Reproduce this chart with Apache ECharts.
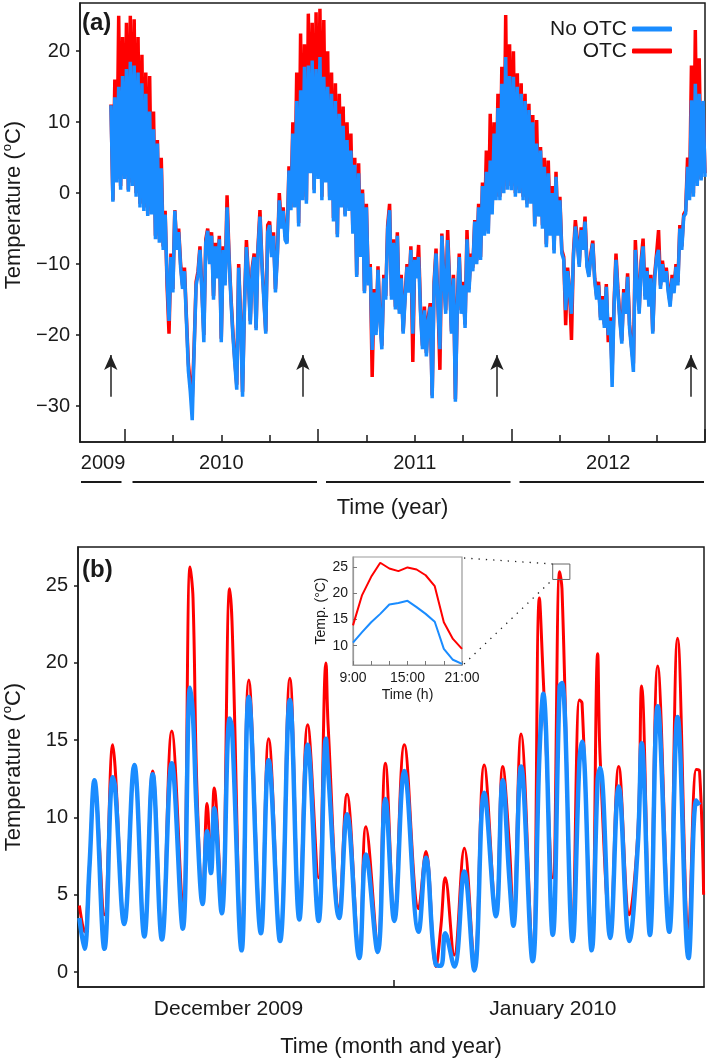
<!DOCTYPE html>
<html><head><meta charset="utf-8">
<script src="https://cdn.jsdelivr.net/npm/echarts@6/dist/echarts.min.js"></script>
<style>html,body{margin:0;padding:0;background:#fff}#c{width:709px;height:1060px}</style>
</head><body><div id="c"></div>
<script>
// ---------- Panel (a): samples every ~3.65 days, decimal years ----------
const aStartYear = 2009.93;
const aStepYear = 0.01;
const aNoOTC = [
12.4,-1.2,13.5,1.5,15,0.5,16.5,2,17.5,0.2,
18.5,1,18,-0.5,17,-2,15.5,-2.5,14,-3.2,
11.5,-3,9,-6.5,7,-7,3.5,-8,-3,-12,
-18,-9,-14,-2.5,-8,-5.5,-10.5,-13.5,-11,-18,
-25,-28,-32,-22,-13,-11.5,-8,-14,-21,-7,
-5.3,-10,-6,-15,-7.5,-12,-6.5,-21,-8,-13,
-2,-9,-15,-20,-24,-27.7,-10.5,-18,-28.7,-16,
-7.6,-12,-18.5,-11,-9,-19.3,-8,-3.3,-10,-15,
-19.8,-5.5,-4.5,-9,-6,-14,-9,-1,-5,-2.5,
-6.6,-7.1,3.2,-2.4,8.4,-2,13,-4.7,14.5,-1,
17.8,-1.5,18,2.8,18.7,0,17.5,2,19.2,-1,
16.4,1.5,15,-1,14,-4,13,-6.2,11.2,-2,
9.5,-3.3,7.5,-2.5,6,-5.7,4,-11.8,2.8,-9,
0,-14.1,-2,-13,-10.4,-22.1,-14,-20,-10.8,-18,
-22,-12,-15,-5,-2.4,-15,-7,-16.4,-6,-17,
-12,-19.8,-15,-10.4,-14,-8,-19.8,-9.4,-12,-9,
-17,-22,-16.5,-23,-18,-16,-28.9,-13,-8.5,-16,
-22,-6,-12,-17,-6.6,-13,-19.8,-12,-29.4,-16,
-9,-17,-13,-19,-6.5,-14,-9,-11,-4,-10,
-2,-9.4,1,-6,3,-5.7,4.6,-3,8.4,-1,
12,-1,15.4,0,19.2,0.5,16.5,0.4,16.4,-0.5,
15,0,14,-1,13,-2,11.7,-1.5,10,-4.7,
7,-3.3,6,-5,3.7,-7.6,2.8,-6,0,-8.5,
2.3,-6,-1,-8.5,-9.4,-16.5,-11,-14,-17,-9,
-4.7,-7,-10.4,-5.2,-8,-4,-10.4,-11.8,-9,-7.1,
-12.3,-15,-13,-17.9,-15,-19,-13.2,-20,-18,-27.3,
-16,-9.4,-14,-18,-21.2,-14,-17,-11.8,-19,-22,
-25.2,-8,-13,-17,-10,-7.5,-15,-11,-16,-12,
-19.8,-12,-9,-8,-13.5,-10,-12.5,-11,-14,-16,
-12,-14.1,-10.4,-13,-5,-8,-3.3,-2.9,3.7,-1,
13.1,-0.5,15.4,1,14,1.8,13,2.3
];
const aOTC = [
12.5,-1,16,2,25,1,22,2.5,24,0.5,
25,1.5,24.5,0,22,-1.5,19.5,-2,17,-3,
16.5,-2.5,11.5,-6,7.5,-6.5,5,-7.5,-2.5,-13,
-19.8,-8.5,-13.5,-2.4,-7.5,-5,-10,-13,-10.5,-17.5,
-24,-27,-29,-21.5,-12.5,-11,-7.5,-13.5,-20,-6.5,
-5,-9.5,-5.5,-14.5,-7,-11.5,-6,-20.5,-7.5,-12.5,
-0.3,-8.5,-14.5,-19.5,-23.5,-27,-10,-17.5,-28,-15.5,
-6.6,-11.5,-18,-10.5,-8.5,-19,-7.5,-2.4,-9.5,-14.5,
-19.5,-4.5,-4,-8.5,-5.5,-13.5,-8.5,0,-4.5,-2,
-6,-6.8,3.8,-2,10,-1.5,17,-4.2,22.5,-0.5,
21,-1,25.3,3,24,0.5,25.5,2.5,26,-0.5,
24.4,2,20,-0.5,17,-3.5,15.5,-5.8,14,-1.5,
12.2,-3,10,-2,8.4,-5.3,5,-11.5,4.2,-8.5,
0.5,-13.8,-1.5,-12.5,-10,-25.9,-13.5,-19.5,-10.3,-17.5,
-21.5,-11.5,-14.5,-4.5,-1.5,-14.5,-6.5,-16,-5.5,-16.5,
-11.5,-19.5,-14.5,-10,-13.5,-7.5,-23.8,-9,-11.5,-7.3,
-16.5,-21.5,-16,-22.5,-17.5,-15.5,-28.5,-12.5,-7.8,-15.5,
-24.9,-5.7,-11.5,-16.5,-5.2,-12.5,-19.5,-11.5,-29,-15.5,
-8.5,-16.5,-12.5,-18.5,-5.2,-13.5,-8.5,-10.5,-3.8,-9.5,
-1.5,-9,1.5,-5.5,6,-5.3,11.2,-2.5,10,-0.5,
14,-0.5,17.8,0.5,25.1,1,21,1,20,0,
16.9,0.5,15.5,-0.5,14,-1.5,12.6,-1,11,-4.3,
10.3,-3,6.5,-4.5,5,-7.2,4.6,-5.5,1,-8,
3,-5.5,-0.5,-8,-9,-18.6,-10.5,-13.5,-20.7,-8.5,
-3.8,-6.5,-10,-4.8,-7.5,-3.3,-10,-11.5,-8.5,-6.7,
-12,-14.5,-12.5,-17.5,-14.5,-18.5,-12.8,-21,-17.5,-25,
-15.5,-8.5,-13.5,-17.5,-20.8,-13.5,-16.5,-11.3,-18.5,-21.5,
-24,-6.6,-12.5,-16.5,-9.5,-6.4,-14.5,-10.5,-15.5,-11.5,
-19.5,-11.5,-8.5,-5.2,-13,-9.5,-12,-10.5,-13.5,-15.5,
-11.5,-13.5,-10,-12.5,-4.5,-7.5,-3,-2.5,5,-0.5,
18,0,23,1.5,19,2,12.6,2.8
];
const aArrowYears = [2009.929, 2010.922, 2011.925, 2012.928];
const aArrowRange = [-28.7, -22.8];
const aYearTicks = [2010, 2011, 2012, 2013];
const aQuarterTicks = [2010.25,2010.5,2010.75,2011.25,2011.5,2011.75,2012.25,2012.5,2012.75];
const aYearLabelPos = [2009.889, 2010.5, 2011.5, 2012.5];
const aYearLabelText = ['2009', '2010', '2011', '2012'];
const aYTicks = [-30, -20, -10, 0, 10, 20];

// ---------- Panel (b): days relative to 1 Jan 2010 00:00 ----------
const bDay = [-16.29,-16.03,-15.77,-15.51,-14.99,-14.56,-14.44,-13.96,-13.44,-12.92,
-12.49,-12.01,-11.50,-10.93,-10.55,-10.40,-10.20,-9.90,-9.67,-9.47,
-9.30,-8.91,-8.50,-8.38,-7.88,-7.51,-6.88,-6.48,-5.89,-5.38,
-4.89,-4.46,-3.89,-3.51,-3.40,-2.82,-2.42,-1.78,-1.44,-0.83,
-0.43,0.03,0.55,1.29,1.67,2.19,2.45,2.67,3.14,3.66,
4.18,4.69,5.30,5.65,5.99,6.20,6.60,7.20,7.55,7.75,
8.24,8.60,8.72,9.27,9.62,9.76,10.26,10.57,10.70,11.22,
11.66,12.21,12.65,12.85,13.28,13.68,14.28,14.71,15.28,15.68,
15.85,16.06];
const bNoOTC = [3.5,1.5,6.7,12.4,1.5,12.6,12.0,3.1,13.4,2.3,
12.8,2.1,13.5,2.8,18.4,16.5,10.0,4.4,9.1,6.4,
10.6,3.8,16.4,15.8,1.4,17.8,2.5,13.7,2.0,17.6,
3.4,14.7,3.3,15.1,13.0,3.5,10.2,0.9,7.6,1.3,
11.2,3.3,13.0,2.6,7.4,0.45,0.4,2.5,0.35,6.5,
0.1,11.6,3.6,12.4,6.1,3.0,13.3,0.7,14.0,18.0,
2.4,18.5,18.7,2.0,13.5,14.9,1.4,12.5,13.2,2.2,
12.0,2.0,8.2,14.8,2.4,17.2,2.6,16.5,0.9,11.1,
10.8,null];
const bOTC = [4.3,2.6,6.8,12.3,3.7,14.7,13.3,3.5,13.3,2.6,
13.0,2.5,15.6,4.3,26.2,24.2,12.0,5.0,10.9,7.0,
11.9,4.5,24.8,22.7,2.0,18.9,3.0,15.1,2.4,19.0,
3.8,16.0,6.1,20.0,16.0,4.0,11.5,1.3,9.4,2.0,
13.5,3.8,14.7,4.1,7.8,0.35,3.0,6.1,1.1,8.0,
0.7,13.4,4.0,13.3,8.3,3.5,15.4,1.0,24.2,19.0,
6.1,25.9,24.8,3.0,17.6,17.4,2.0,20.6,13.8,3.0,
13.3,3.7,9.0,18.5,2.9,19.8,3.0,21.6,2.8,13.1,
13.0,5.0];
const bYTicks = [0, 5, 10, 15, 20, 25];
const bMonthLabelPos = [-8.56, 8.25];
const bMonthLabelText = ['December 2009', 'January 2010'];
const bMonthTicks = [0];
const bZoomBox = [[8.24, 26.4], [9.13, 25.4]];

// ---------- Inset: hourly values on the zoomed day ----------
const insetHour = [9,10,11,12,13,14,15,16,17,18,19,20,21];
const insetNoOTC = [10.6,12.6,14.5,16.1,17.9,18.2,18.6,17.4,16.1,14.6,9.4,7.3,6.5];
const insetOTC = [13.9,19.7,23.2,25.9,24.8,24.3,25.0,24.6,23.5,21.4,14.5,11.3,9.4];
const insetXTicks = [9,11,13,15,17,19,21];
const insetXLabels = [9,15,21];
const insetYTicks = [10,15,20,25];

// ---------- styles ----------
const RED = '#ff0000', BLUE = '#1a8cff', INK = '#1a1a1a';
const FONT = 'Liberation Sans, Arial, sans-serif';
const aYears = aNoOTC.map((_, i) => +(aStartYear + i * aStepYear).toFixed(2));
const pair = (xs, ys) => xs.map((x, i) => [x, ys[i]]);
const minus = v => (v < 0 ? '\u2212' + Math.abs(v) : String(v));

const chart = echarts.init(document.getElementById('c'), null, {renderer: 'canvas'});

const axisLineStyle = {show: true, onZero: false, lineStyle: {color: INK, width: 1.5}};
const baseLabel = {color: INK, fontFamily: FONT, fontSize: 20};

chart.setOption({
  animation: false,
  backgroundColor: '#fff',
  textStyle: {fontFamily: FONT},
  legend: {
    data: ['No OTC', 'OTC'], orient: 'vertical', align: 'right',
    right: 32, top: 13, itemGap: 0, itemWidth: 40, itemHeight: 5, icon: 'roundRect',
    textStyle: {fontSize: 21, color: INK, lineHeight: 22, fontFamily: FONT},
    selectedMode: false
  },
  grid: [
    {left: 80, top: 3, width: 625, height: 439, show: true, borderColor: INK, borderWidth: 1.5, outerBoundsMode: 'none'},
    {left: 78, top: 547, width: 626, height: 440, show: true, borderColor: INK, borderWidth: 1.5, outerBoundsMode: 'none'},
    {left: 353, top: 557, width: 109, height: 108, show: true, borderColor: '#999', borderWidth: 1.2, backgroundColor: '#fff', z: 5, outerBoundsMode: 'none'}
  ],
  xAxis: [
    {gridIndex: 0, type: 'value', position: 'bottom', min: 2009.77, max: 2013.0, axisLine: axisLineStyle,
     axisTick: {show: true, inside: true, length: 7, customValues: aQuarterTicks, lineStyle: {color: INK, width: 1.5}},
     axisLabel: Object.assign({customValues: aYearLabelPos, margin: 11,
       formatter: v => aYearLabelText[aYearLabelPos.indexOf(v)] || ''}, baseLabel),
     splitLine: {show: false},
     name: 'Time (year)', nameLocation: 'middle', nameGap: 55,
     nameTextStyle: {fontSize: 22, color: INK, fontFamily: FONT}},
    {gridIndex: 0, type: 'value', position: 'bottom', offset: 0, min: 2009.77, max: 2013.0, axisLine: {show: false, onZero: false},
     axisTick: {show: true, inside: true, length: 13, customValues: aYearTicks, lineStyle: {color: INK, width: 1.5}},
     axisLabel: {show: false}, splitLine: {show: false}},
    {gridIndex: 1, type: 'value', position: 'bottom', min: -16.36, max: 16.08, axisLine: axisLineStyle,
     axisTick: {show: true, inside: true, length: 7, customValues: bMonthTicks, lineStyle: {color: INK, width: 1.5}},
     axisLabel: Object.assign({customValues: bMonthLabelPos, margin: 12, fontSize: 21,
       formatter: v => bMonthLabelText[bMonthLabelPos.indexOf(v)] || ''}, {color: INK, fontFamily: FONT}),
     splitLine: {show: false},
     name: 'Time (month and year)', nameLocation: 'middle', nameGap: 49,
     nameTextStyle: {fontSize: 22, color: INK, fontFamily: FONT}},
    {gridIndex: 2, type: 'value', position: 'bottom', min: 9, max: 21, axisLine: {show: true, onZero: false, lineStyle: {color: '#999', width: 1.2}},
     axisTick: {show: true, inside: true, length: 4, customValues: insetXTicks, lineStyle: {color: '#777'}},
     axisLabel: {customValues: insetXLabels, formatter: v => v + ':00', margin: 6, fontSize: 14, color: INK, fontFamily: FONT},
     splitLine: {show: false}, z: 6,
     name: 'Time (h)', nameLocation: 'middle', nameGap: 23,
     nameTextStyle: {fontSize: 14, color: INK, fontFamily: FONT}}
  ],
  yAxis: [
    {gridIndex: 0, type: 'value', position: 'left', min: -35.07, max: 26.8, axisLine: axisLineStyle,
     axisTick: {show: true, inside: false, length: 4, customValues: aYTicks, lineStyle: {color: INK, width: 1.5}},
     axisLabel: Object.assign({customValues: aYTicks, margin: 10, formatter: minus}, baseLabel),
     splitLine: {show: false}},
    {gridIndex: 1, type: 'value', position: 'left', min: -0.97, max: 27.5, axisLine: axisLineStyle,
     axisTick: {show: true, inside: false, length: 4, customValues: bYTicks, lineStyle: {color: INK, width: 1.5}},
     axisLabel: Object.assign({customValues: bYTicks, margin: 10}, baseLabel),
     splitLine: {show: false}},
    {gridIndex: 2, type: 'value', position: 'left', min: 6.3, max: 27, axisLine: {show: true, onZero: false, lineStyle: {color: '#999', width: 1.2}},
     axisTick: {show: true, inside: true, length: 4, customValues: insetYTicks, lineStyle: {color: '#777'}},
     axisLabel: {customValues: insetYTicks, margin: 5, fontSize: 14, color: INK, fontFamily: FONT},
     splitLine: {show: false}, z: 6,
     name: 'Temp. (\u00b0C)', nameLocation: 'middle', nameGap: 24, nameRotate: 90,
     nameTextStyle: {fontSize: 14, color: INK, fontFamily: FONT}}
  ],
  series: [
    {name: 'OTC', type: 'line', xAxisIndex: 0, yAxisIndex: 0, data: pair(aYears, aOTC),
     showSymbol: false, color: RED, lineStyle: {color: RED, width: 3.5}, silent: true},
    {name: 'No OTC', type: 'line', xAxisIndex: 0, yAxisIndex: 0, data: pair(aYears, aNoOTC),
     showSymbol: false, color: BLUE, lineStyle: {color: BLUE, width: 3.5}, silent: true,
     markLine: {silent: true, symbol: ['none', 'arrow'], symbolSize: [10, 15], label: {show: false},
       lineStyle: {color: '#222', width: 1.5, type: 'solid'}, emphasis: {disabled: true},
       data: aArrowYears.map(x => [{coord: [x, aArrowRange[0]]}, {coord: [x, aArrowRange[1]]}])}},
    {name: 'OTC', type: 'line', xAxisIndex: 2, yAxisIndex: 1, data: pair(bDay, bOTC),
     showSymbol: false, smooth: 0.4, color: RED, lineStyle: {color: RED, width: 3}, silent: true},
    {name: 'No OTC', type: 'line', xAxisIndex: 2, yAxisIndex: 1, data: pair(bDay, bNoOTC),
     showSymbol: false, smooth: 0.4, color: BLUE, lineStyle: {color: BLUE, width: 4.5}, silent: true},
    {name: 'OTC', type: 'line', xAxisIndex: 3, yAxisIndex: 2, data: pair(insetHour, insetOTC), z: 7,
     showSymbol: false, color: RED, lineStyle: {color: RED, width: 2}, silent: true},
    {name: 'No OTC', type: 'line', xAxisIndex: 3, yAxisIndex: 2, data: pair(insetHour, insetNoOTC), z: 7,
     showSymbol: false, color: BLUE, lineStyle: {color: BLUE, width: 2}, silent: true}
  ]
});

// ---------- annotations positioned through the axes ----------
const px = (q, v) => chart.convertToPixel(q, v);
const aBottom = px({yAxisIndex: 0}, -35.07);
const underlineY = aBottom + 40;
const yearEdges = [2009.77, 2010, 2011, 2012, 2013.0];
const underlines = [];
for (let k = 0; k < yearEdges.length - 1; k++) {
  const x0 = px({xAxisIndex: 0}, yearEdges[k]) + (k === 0 ? 1 : 8);
  const x1 = px({xAxisIndex: 0}, yearEdges[k + 1]) - (k === 0 ? 3 : 1);
  underlines.push({type: 'line', shape: {x1: x0, y1: underlineY, x2: x1, y2: underlineY},
    style: {stroke: INK, lineWidth: 2}, silent: true});
}
const boxA = px({gridIndex: 1}, bZoomBox[0]);
const boxB = px({gridIndex: 1}, bZoomBox[1]);
const inTR = px({gridIndex: 2}, [21, 27]);
const inBR = px({gridIndex: 2}, [21, 6.3]);
const bMid = (px({yAxisIndex: 1}, -0.97) + px({yAxisIndex: 1}, 27.5)) / 2;
const yTitle = (x, y) => ({
  type: 'text', x: x, y: y, rotation: Math.PI / 2, silent: true,
  style: {text: '{m|Temperature (}{s|o}{m|C)}', align: 'center', verticalAlign: 'middle',
    rich: {m: {fontSize: 22, fontFamily: FONT, fill: INK, lineHeight: 26},
           s: {fontSize: 13, fontFamily: FONT, fill: INK, lineHeight: 26, verticalAlign: 'top', padding: [0, 0, 0, 1]}}}
});
chart.setOption({
  graphic: [
    ...underlines,
    {type: 'text', x: 82, y: 23, silent: true,
     style: {text: '(a)', font: 'bold 24px ' + FONT, fill: INK, verticalAlign: 'middle'}},
    {type: 'text', x: 82, y: 570, silent: true,
     style: {text: '(b)', font: 'bold 24px ' + FONT, fill: INK, verticalAlign: 'middle'}},
    yTitle(14, 205),
    yTitle(14, bMid),
    {type: 'rect', shape: {x: boxA[0], y: boxA[1], width: boxB[0] - boxA[0], height: boxB[1] - boxA[1]},
     style: {fill: null, stroke: '#666', lineWidth: 1}, silent: true, z: 10},
    {type: 'line', shape: {x1: inTR[0] + 2, y1: inTR[1] + 1, x2: boxA[0], y2: boxA[1]},
     style: {stroke: '#222', lineWidth: 1.3, lineDash: [1.3, 6]}, silent: true, z: 10},
    {type: 'line', shape: {x1: inBR[0] + 2, y1: inBR[1] - 1, x2: boxA[0], y2: boxB[1]},
     style: {stroke: '#222', lineWidth: 1.3, lineDash: [1.3, 6]}, silent: true, z: 10}
  ]
});
</script></body></html>
